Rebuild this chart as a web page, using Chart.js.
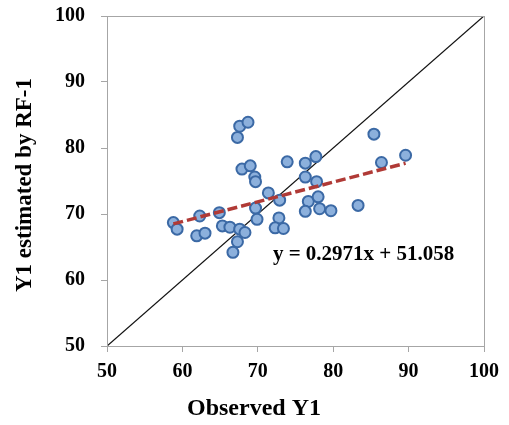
<!DOCTYPE html>
<html>
<head>
<meta charset="utf-8">
<script src="https://cdn.jsdelivr.net/npm/chart.js@4.4.0/dist/chart.umd.min.js"></script>
<style>
  html, body { margin: 0; padding: 0; background: #ffffff; }
  #wrap { width: 509px; height: 425px; }
</style>
</head>
<body>
<div id="wrap"><canvas id="rfChart" width="509" height="425"></canvas></div>
<script>
// observed vs estimated values
const observedY1 = [67.6, 68.7, 67.3, 67.9, 69.0, 69.6, 69.7, 71.4, 73.9, 58.8,
                    59.3, 62.3, 61.9, 63.0, 64.9, 65.3, 66.3, 67.6, 68.3, 67.3,
                    66.7, 69.7, 69.9, 72.9, 72.8, 72.3, 73.4, 85.4, 89.6, 86.4,
                    76.3, 77.7, 76.3, 77.8, 76.7, 78.0, 76.3, 78.2, 79.7, 83.3];
const estimatedRF1 = [83.3, 83.9, 81.6, 76.8, 77.3, 75.6, 74.9, 73.2, 77.9, 68.7,
                      67.7, 69.7, 66.7, 67.1, 70.2, 68.2, 68.0, 67.7, 67.2, 65.8,
                      64.2, 70.9, 69.2, 72.1, 69.4, 67.9, 67.8, 82.1, 78.9, 77.8,
                      77.7, 78.7, 75.6, 74.9, 71.9, 72.6, 70.4, 70.8, 70.5, 71.3];
// regression line end points (y = 0.2971x + 51.058)
const trendX = [58.8, 89.6];
const trendY = [68.5, 77.7];
// 1:1 line
const diagX = [50, 100];
const diagY = [50, 100];
const equationLabel = "y = 0.2971x + 51.058";
const xTitle = "Observed Y1";
const yTitle = "Y1 estimated by RF-1";

const pts = (xs, ys) => xs.map((x, i) => ({ x: x, y: ys[i] }));
const serif = "'Liberation Serif', 'Times New Roman', serif";

// frame, axis titles and equation
const extras = {
  id: "extras",
  afterDatasetsDraw(chart) {
    const { ctx, chartArea: a, scales } = chart;
    ctx.save();
    ctx.strokeStyle = "#a6a6a6";
    ctx.lineWidth = 1;
    ctx.strokeRect(Math.round(a.left) + 0.5, Math.round(a.top) + 0.5,
                   Math.round(a.right - a.left), Math.round(a.bottom - a.top));
    ctx.fillStyle = "#000";
    ctx.font = "bold 21px " + serif;
    ctx.textAlign = "left";
    ctx.textBaseline = "middle";
    ctx.fillText(equationLabel, scales.x.getPixelForValue(72.0), scales.y.getPixelForValue(63.9));
    ctx.font = "bold 24px " + serif;
    ctx.textAlign = "center";
    ctx.fillText(xTitle, 254, 409);
    ctx.font = "bold 23px " + serif;
    ctx.translate(25, 185);
    ctx.rotate(-Math.PI / 2);
    ctx.fillText(yTitle, 0, 0);
    ctx.restore();
  }
};

const ctx = document.getElementById("rfChart").getContext("2d");
const rfChart = new Chart(ctx, {
  data: {
    datasets: [
      {
        type: "line",
        data: pts(trendX, trendY),
        borderColor: "#b03a36",
        borderWidth: 3.5,
        borderDash: [10, 4],
        pointRadius: 0,
        fill: false,
        order: 0,
      },
      {
        type: "scatter",
        data: pts(observedY1, estimatedRF1),
        backgroundColor: "#8cb0dc",
        borderColor: "#3b69a5",
        borderWidth: 2,
        pointRadius: 5.5,
        order: 1,
      },
      {
        type: "line",
        data: pts(diagX, diagY),
        borderColor: "#111",
        borderWidth: 1.3,
        pointRadius: 0,
        fill: false,
        order: 2,
      },
    ],
  },
  options: {
    responsive: false,
    animation: false,
    layout: { padding: { top: 16, right: 25, bottom: 0, left: 0 } },
    plugins: { legend: { display: false }, tooltip: { enabled: false } },
    scales: {
      x: {
        type: "linear", min: 50, max: 100,
        ticks: { stepSize: 10, color: "#000", font: { family: serif, size: 20, weight: "bold" }, padding: 8 },
        grid: { drawOnChartArea: false, tickLength: 6, color: "#a6a6a6" },
        border: { color: "#a6a6a6" },
        afterFit: (s) => { s.height = 79; },
      },
      y: {
        type: "linear", min: 50, max: 100,
        ticks: { stepSize: 10, color: "#000", font: { family: serif, size: 20, weight: "bold" }, padding: 16 },
        grid: { drawOnChartArea: false, tickLength: 6, color: "#a6a6a6" },
        border: { color: "#a6a6a6" },
        afterFit: (s) => { s.width = 107; s.paddingTop = 0; s.paddingBottom = 0; },
      },
    },
  },
  plugins: [extras],
});
console.log(JSON.stringify(rfChart.chartArea));
</script>
</body>
</html>
